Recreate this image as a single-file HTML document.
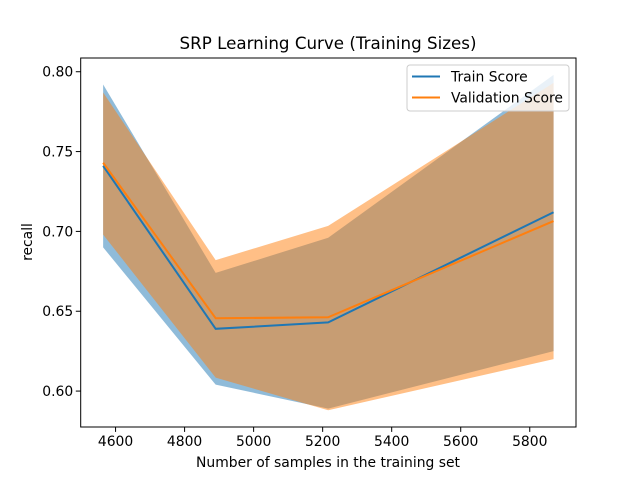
<!DOCTYPE html>
<html><head><meta charset="utf-8"><style>
html,body{margin:0;padding:0;background:#fff;}
svg text{font-family:"DejaVu Sans","Liberation Sans",sans-serif;}
</style></head><body>
<svg id="chart" width="640" height="480" xmlns="http://www.w3.org/2000/svg">
<rect width="640" height="480" fill="#fff"/>
<g id="bands"></g>
<g id="lines"></g>
<rect x="80.7" y="58" width="495.3" height="369" fill="none" stroke="#000" stroke-width="1"/>
<g id="xticks"></g>
<g id="yticks"></g>
<text x="328" y="49" font-size="16.7" text-anchor="middle">SRP Learning Curve (Training Sizes)</text>
<text x="328" y="467" font-size="13.9" text-anchor="middle">Number of samples in the training set</text>
<text transform="translate(32,242) rotate(-90)" font-size="13.9" text-anchor="middle">recall</text>
<g>
<rect x="407" y="65" width="162" height="46" rx="3" fill="#fff" fill-opacity="0.8" stroke="#ccc"/>
<line x1="412" y1="76.5" x2="440" y2="76.5" stroke="#1f77b4" stroke-width="2"/>
<text x="451" y="81.5" font-size="13.9">Train Score</text>
<line x1="412" y1="97.5" x2="440" y2="97.5" stroke="#ff7f0e" stroke-width="2"/>
<text x="451" y="102.5" font-size="13.9">Validation Score</text>
</g>
</svg>
<script>
const sizes = [4564, 4890, 5216, 5869];
const trainMean = [0.741, 0.639, 0.643, 0.712];
const trainUpper = [0.792, 0.674, 0.696, 0.798];
const trainLower = [0.690, 0.604, 0.589, 0.625];
const valMean = [0.743, 0.6456, 0.6462, 0.7065];
const valUpper = [0.787, 0.682, 0.7035, 0.793];
const valLower = [0.698, 0.6084, 0.588, 0.620];
const xTicks = [4600, 4800, 5000, 5200, 5400, 5600, 5800];
const yTicks = [0.60, 0.65, 0.70, 0.75, 0.80];

const NS = "http://www.w3.org/2000/svg";
const X0 = 80.7, X1 = 576, Y0 = 58, Y1 = 427;
const xmin = 4499, xmax = 5934, ymin = 0.5775, ymax = 0.8086;
function xs(v){ return X0 + (v - xmin) / (xmax - xmin) * (X1 - X0); }
function ys(v){ return Y1 - (v - ymin) / (ymax - ymin) * (Y1 - Y0); }
function mk(tag, attrs, parent){ const e = document.createElementNS(NS, tag); for (const k in attrs) e.setAttribute(k, attrs[k]); parent.appendChild(e); return e; }

const bands = document.getElementById('bands');
const lines = document.getElementById('lines');
function band(up, lo, color, name){
  let pts = sizes.map((s,i)=>xs(s)+','+ys(up[i]));
  pts = pts.concat(sizes.map((s,i)=>xs(s)+','+ys(lo[i])).reverse());
  const p = mk('polygon', {points: pts.join(' '), fill: color, 'fill-opacity': 0.5}, bands);
  
  
}
band(trainUpper, trainLower, '#1f77b4', 'train-score-band');
band(valUpper, valLower, '#ff7f0e', 'validation-score-band');
function line(m, color, name){
  const p = mk('polyline', {points: sizes.map((s,i)=>xs(s)+','+ys(m[i])).join(' '), fill: 'none', stroke: color, 'stroke-width': 2}, lines);
  
  
}
line(trainMean, '#1f77b4', 'train-score-line');
line(valMean, '#ff7f0e', 'validation-score-line');

const xg = document.getElementById('xticks');
xTicks.forEach(t=>{
  const x = xs(t);
  mk('line', {x1:x, y1:Y1, x2:x, y2:Y1+4.9, stroke:'#000'}, xg);
  const tx = mk('text', {x:x, y:Y1+19, 'font-size':13.9, 'text-anchor':'middle'}, xg);
  tx.textContent = t;
  
  
});
const yg = document.getElementById('yticks');
yTicks.forEach(t=>{
  const y = ys(t);
  mk('line', {x1:X0-4.9, y1:y, x2:X0, y2:y, stroke:'#000'}, yg);
  const tx = mk('text', {x:X0-7.5, y:y+5, 'font-size':13.9, 'text-anchor':'end'}, yg);
  tx.textContent = t.toFixed(2);
  
  
});
</script>
</body></html>
